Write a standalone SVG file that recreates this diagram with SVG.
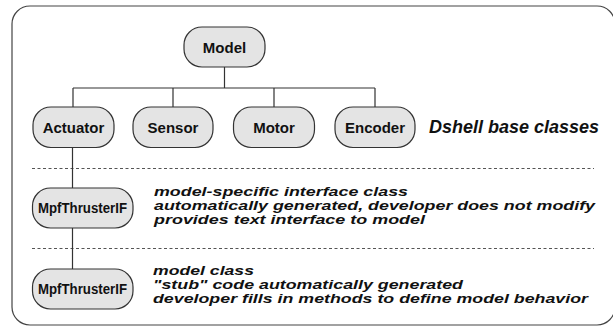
<svg xmlns="http://www.w3.org/2000/svg" width="613" height="329" viewBox="0 0 613 329">
  <style>
    .frame { fill: #ffffff; stroke: #444444; stroke-width: 1.2; }
    .node rect { fill: #e4e4e4; stroke: #333333; stroke-width: 1.2; }
    .node text { font-family: "Liberation Sans", Arial, sans-serif; font-weight: bold; font-size: 15px; fill: #111111; text-anchor: middle; }
    .node text.small { font-size: 14px; }
    .conn { stroke: #333333; stroke-width: 1.2; fill: none; }
    .divider { stroke: #555555; stroke-width: 1; stroke-dasharray: 3 2.5; fill: none; }
    .note { font-family: "Liberation Sans", Arial, sans-serif; font-weight: bold; font-style: italic; font-size: 13px; fill: #111111; }
    .note.big { font-size: 18px; }
  </style>

  <!-- outer frame -->
  <rect class="frame" x="12" y="6" width="603" height="319" rx="18" ry="18"/>

  <!-- layer dividers -->
  <line class="divider" x1="32" y1="168.5" x2="594" y2="168.5"/>
  <line class="divider" x1="32" y1="248.5" x2="594" y2="248.5"/>

  <!-- connectors -->
  <g id="connectors">
    <path class="conn" d="M224.5 67 V88 M73 88 H375 M73 88 V107 M173 88 V107 M274 88 V107 M375 88 V107"/>
    <path class="conn" d="M72.5 148 V188 M72.5 228 V269"/>
  </g>

  <!-- nodes -->
  <g id="model" class="node">
    <rect x="184" y="27" width="81" height="40" rx="18"/>
    <text x="224.5" y="52.5">Model</text>
  </g>
  <g id="actuator" class="node">
    <rect x="33" y="107" width="81" height="40.5" rx="18"/>
    <text x="73.5" y="132.5">Actuator</text>
  </g>
  <g id="sensor" class="node">
    <rect x="133" y="107" width="80" height="40.5" rx="18"/>
    <text x="173" y="132.5">Sensor</text>
  </g>
  <g id="motor" class="node">
    <rect x="233.5" y="107" width="81" height="40.5" rx="18"/>
    <text x="274" y="132.5">Motor</text>
  </g>
  <g id="encoder" class="node">
    <rect x="335" y="107" width="80" height="40.5" rx="18"/>
    <text x="375" y="132.5">Encoder</text>
  </g>
  <g id="mpfThrusterIF" class="node">
    <rect x="32.5" y="188" width="100.5" height="40" rx="18"/>
    <text class="small" x="82.5" y="213" textLength="89" lengthAdjust="spacingAndGlyphs">MpfThrusterIF</text>
  </g>
  <g id="mpfThruster" class="node">
    <rect x="32.5" y="269" width="100.5" height="40" rx="18"/>
    <text class="small" x="82.5" y="294" textLength="89" lengthAdjust="spacingAndGlyphs">MpfThrusterIF</text>
  </g>

  <!-- annotations -->
  <text class="note big" x="429" y="133">Dshell base classes</text>

  <text class="note" x="154" y="195.5" textLength="254" lengthAdjust="spacingAndGlyphs">model-specific interface class</text>
  <text class="note" x="154" y="209.5" textLength="441" lengthAdjust="spacingAndGlyphs">automatically generated, developer does not modify</text>
  <text class="note" x="154" y="223.5" textLength="271" lengthAdjust="spacingAndGlyphs">provides text interface to model</text>

  <text class="note" x="153" y="275" textLength="101" lengthAdjust="spacingAndGlyphs">model class</text>
  <text class="note" x="153" y="288.5" textLength="310" lengthAdjust="spacingAndGlyphs">"stub" code automatically generated</text>
  <text class="note" x="153" y="302.5" textLength="435" lengthAdjust="spacingAndGlyphs">developer fills in methods to define model behavior</text>
</svg>
